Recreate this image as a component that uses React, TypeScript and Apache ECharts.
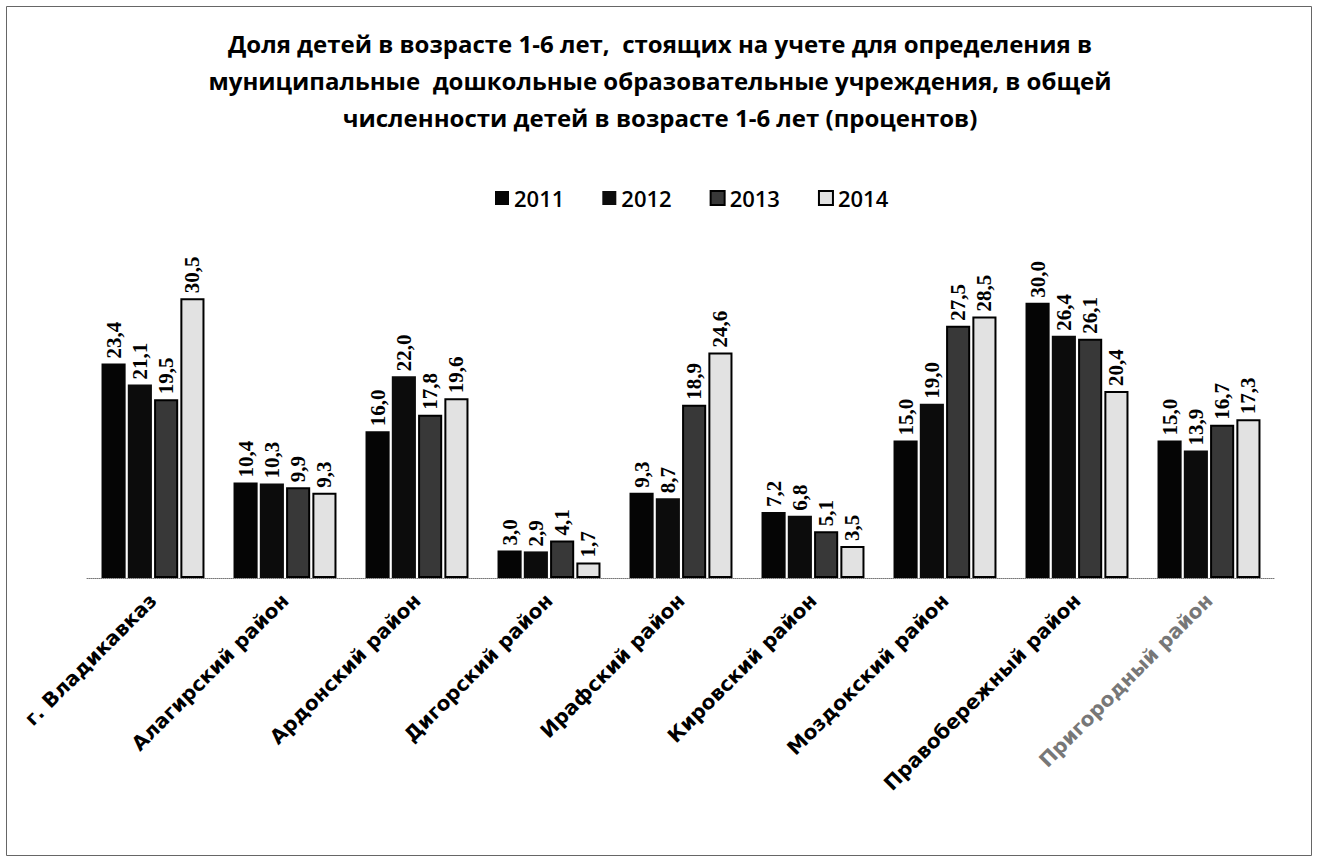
import React, { useEffect, useRef } from "react";
import * as echarts from "echarts";

const titleText =
  "Доля детей в возрасте 1-6 лет,  стоящих на учете для определения в\nмуниципальные  дошкольные образовательные учреждения, в общей\nчисленности детей в возрасте 1-6 лет (процентов)";

const categories = [
  "г. Владикавказ",
  "Алагирский район",
  "Ардонский район",
  "Дигорский район",
  "Ирафский район",
  "Кировский район",
  "Моздокский район",
  "Правобережный район",
  "Пригородный район",
];

const years = ["2011", "2012", "2013", "2014"];

const values2011 = [23.4, 10.4, 16.0, 3.0, 9.3, 7.2, 15.0, 30.0, 15.0];
const values2012 = [21.1, 10.3, 22.0, 2.9, 8.7, 6.8, 19.0, 26.4, 13.9];
const values2013 = [19.5, 9.9, 17.8, 4.1, 18.9, 5.1, 27.5, 26.1, 16.7];
const values2014 = [30.5, 9.3, 19.6, 1.7, 24.6, 3.5, 28.5, 20.4, 17.3];

const seriesValues = [values2011, values2012, values2013, values2014];
const fills = ["#050505", "#0c0c0c", "#383838", "#e2e2e2"];

export default function App() {
  const ref = useRef<HTMLDivElement>(null);
  useEffect(() => {
    if (!ref.current) return;
    const chart = echarts.init(ref.current, null, { renderer: "svg" });
    chart.setOption({
      animation: false,
      backgroundColor: "#ffffff",
      title: {
        text: titleText,
        left: "center",
        top: 20,
        textStyle: {
          fontFamily: "Open Sans",
          fontWeight: "bold",
          fontSize: 24,
          lineHeight: 37,
          color: "#000",
        },
      },
      legend: {
        top: 182,
        left: 490,
        itemWidth: 14,
        itemHeight: 14,
        itemGap: 38,
        icon: "rect",
        textStyle: { fontFamily: "Open Sans", fontWeight: 600, fontSize: 22, color: "#000" },
        data: years,
      },
      grid: { left: 87, right: 45, top: 257, bottom: 286, containLabel: false },
      xAxis: {
        type: "category",
        data: categories.map((c, i) =>
          i === categories.length - 1 ? { value: c, textStyle: { color: "#777" } } : c
        ),
        axisTick: { show: false },
        axisLine: { lineStyle: { color: "#777", type: "dotted", width: 1 } },
        axisLabel: {
          interval: 0,
          rotate: 45,
          margin: 19,
          fontFamily: "DejaVu Sans",
          fontWeight: "bold",
          fontSize: 20,
          color: "#000",
        },
      },
      yAxis: {
        type: "value",
        min: 0,
        max: 35,
        show: false,
        splitLine: { show: false },
      },
      series: years.map((y, si) => ({
        name: y,
        type: "bar",
        data: seriesValues[si],
        barCategoryGap: "22%",
        barGap: "9%",
        itemStyle: {
          color: fills[si],
          borderColor: "#000",
          borderWidth: si >= 2 ? 2 : 0,
        },
        label: {
          show: true,
          position: "top",
          rotate: 90,
          align: "left",
          verticalAlign: "middle",
          distance: 5,
          fontFamily: "Liberation Serif",
          fontWeight: "bold",
          fontSize: 21,
          color: "#000",
          formatter: (p: any) => Number(p.value).toFixed(1).replace(".", ","),
        },
      })),
      graphic: [
        {
          type: "rect",
          shape: { x: 6.5, y: 6.5, width: 1305, height: 849 },
          style: { fill: "none", stroke: "#666", lineWidth: 1 },
          silent: true,
        },
      ],
    });
    return () => chart.dispose();
  }, []);
  return (
    <div
      ref={ref}
      style={{ position: "absolute", left: 0, top: 0, width: 1320, height: 864 }}
    />
  );
}
